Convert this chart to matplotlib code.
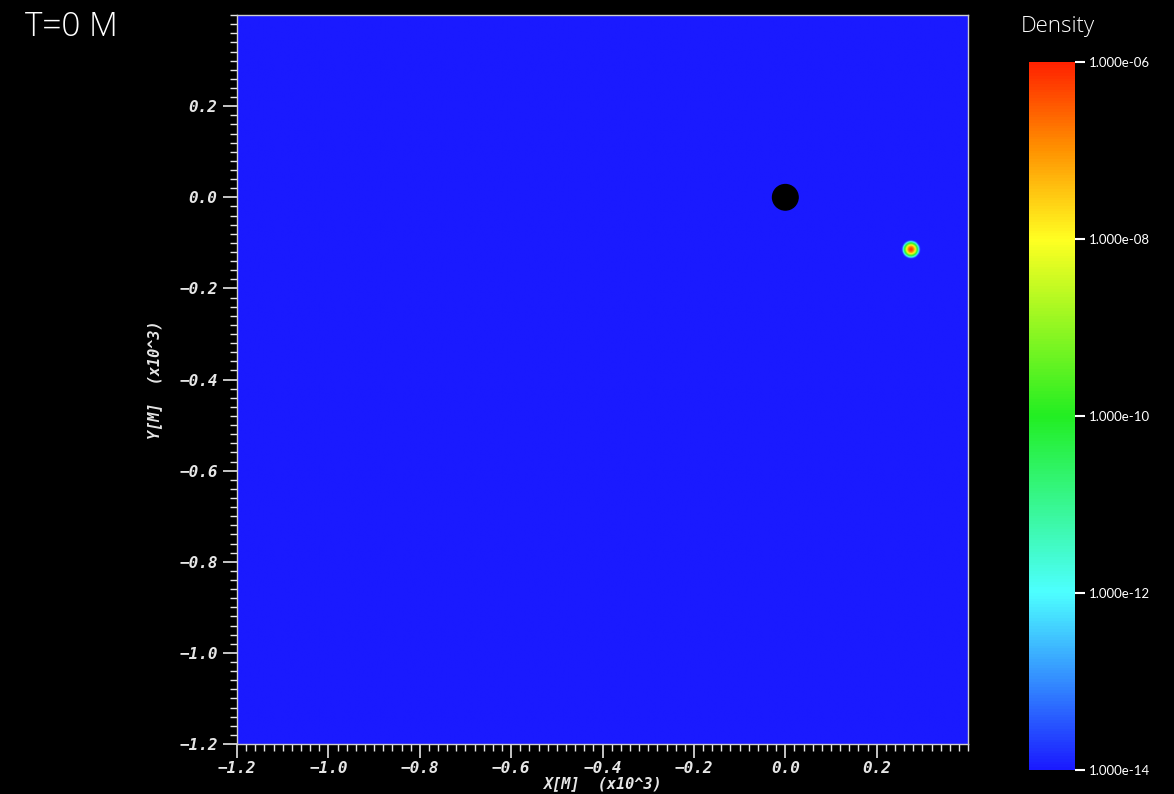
import numpy as np
import matplotlib
matplotlib.use("Agg")
import matplotlib.pyplot as plt
from matplotlib.colors import LinearSegmentedColormap, LogNorm
from matplotlib.patches import Circle

# field extent (units of 10^3 M)
X_RANGE = [-1.2, 0.4]
Y_RANGE = [-1.2, 0.4]
X_TICKS = [-1.2, -1.0, -0.8, -0.6, -0.4, -0.2, 0.0, 0.2]
Y_TICKS = [-1.2, -1.0, -0.8, -0.6, -0.4, -0.2, 0.0, 0.2]

# density: ambient floor plus one compact blob (star)
RHO_FLOOR = 1e-14
RHO_PEAK = 6e-7
BLOB_CENTER = [0.274, -0.114]
BLOB_SIGMA = 0.0033

# black hole excision
BH_CENTER = [0.0, 0.0]
BH_RADIUS = 0.028

CBAR_TICKS = [1e-14, 1e-12, 1e-10, 1e-8, 1e-6]
TIME_LABEL = "T=0 M"

FG = "#e6e6e6"

cmap = LinearSegmentedColormap.from_list(
    "bluered", [(0.0, "#1a1aff"), (0.25, "#4dffff"), (0.5, "#22ee22"),
                (0.75, "#ffff22"), (0.88, "#ff9000"), (1.0, "#ff2200")])

nx = 900
xs = np.linspace(X_RANGE[0], X_RANGE[1], nx)
ys = np.linspace(Y_RANGE[0], Y_RANGE[1], nx)
xx, yy = np.meshgrid(xs, ys)
r2 = (xx - BLOB_CENTER[0]) ** 2 + (yy - BLOB_CENTER[1]) ** 2
rho = RHO_FLOOR + RHO_PEAK * np.exp(-r2 / (2 * BLOB_SIGMA ** 2))

fig = plt.figure(figsize=(11.74, 7.94), dpi=100, facecolor="black")
ax = fig.add_axes([0.2019, 0.063, 0.6227, 0.918])
ax.set_facecolor("black")
norm = LogNorm(vmin=CBAR_TICKS[0], vmax=CBAR_TICKS[-1])
im = ax.imshow(rho, origin="lower", extent=X_RANGE + Y_RANGE, cmap=cmap, norm=norm,
               interpolation="bilinear", aspect="auto")
ax.add_patch(Circle(BH_CENTER, BH_RADIUS, color="black", zorder=3))

ax.set_xlim(X_RANGE)
ax.set_ylim(Y_RANGE)
ax.set_xticks(X_TICKS)
ax.set_yticks(Y_TICKS)
ax.set_xticks(np.arange(-1.2, 0.401, 0.02), minor=True)
ax.set_yticks(np.arange(-1.2, 0.401, 0.02), minor=True)

tick_font = dict(family="DejaVu Sans Mono", weight="bold", style="italic", size=11.5)
ax.set_xticklabels([f"{v:.1f}".replace("-", "\u2212") for v in X_TICKS], **tick_font)
ax.set_yticklabels([f"{v:.1f}".replace("-", "\u2212") for v in Y_TICKS], **tick_font)
ax.tick_params(which="major", direction="out", length=10, width=1.2, color=FG,
               labelcolor=FG)
ax.tick_params(which="minor", direction="out", length=5, width=1, color=FG)
ax.tick_params(axis="x", which="major", pad=2)
ax.tick_params(axis="y", which="major", pad=4)
for s in ax.spines.values():
    s.set_color("#cfcfcf")
    s.set_linewidth(1)

label_font = dict(family="DejaVu Sans Mono", weight="bold", style="italic", size=11, color=FG)
ax.set_xlabel("X[M]  (x10^3)", labelpad=0, **label_font)
ax.set_ylabel("Y[M]  (x10^3)", labelpad=12, **label_font)

fig.text(0.021, 0.966, TIME_LABEL, color="white", fontsize=24, family="Open Sans",
         fontweight="light", va="center", ha="left")

cax = fig.add_axes([0.8765, 0.0302, 0.0392, 0.8917])
cb = fig.colorbar(im, cax=cax, ticks=CBAR_TICKS, format="%.3e")
cb.outline.set_visible(False)
cb.minorticks_off()
cax.tick_params(length=7, width=1.5, color="white", labelcolor="white", labelsize=9.5, pad=3)
for t in cax.get_yticklabels():
    t.set_family("Lato")
fig.text(0.901, 0.967, "Density", color="white", fontsize=16, family="Open Sans",
         fontweight="light", va="center", ha="center")

fig.savefig("out.png", dpi=100, facecolor="black")
